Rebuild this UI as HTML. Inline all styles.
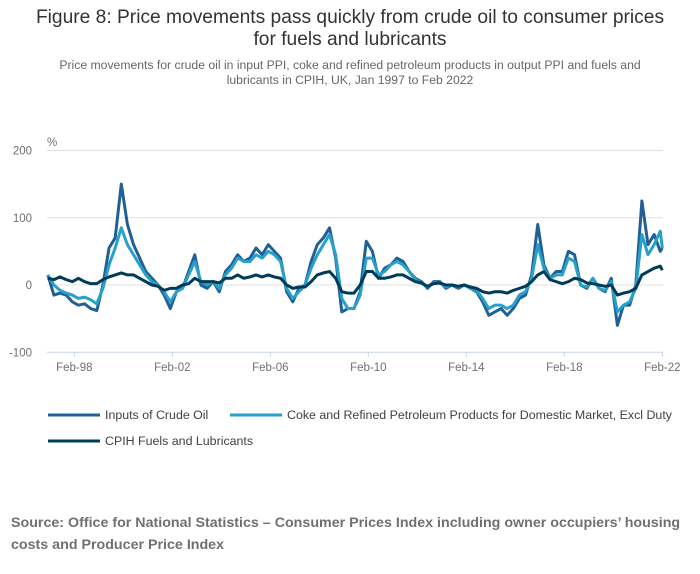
<!DOCTYPE html>
<html><head><meta charset="utf-8"><style>
body{margin:0;width:700px;height:574px;background:#fff;font-family:"Liberation Sans",sans-serif;overflow:hidden;position:relative}
.t{position:absolute;left:0;width:700px;text-align:center;color:#333}
</style></head><body>
<div class="t" style="top:7px;font-size:19.2px;line-height:22px;color:#333">Figure 8: Price movements pass quickly from crude oil to consumer prices<br>for fuels and lubricants</div>
<div class="t" style="top:58px;font-size:12.2px;line-height:15px;color:#666">Price movements for crude oil in input PPI, coke and refined petroleum products in output PPI and fuels and<br>lubricants in CPIH, UK, Jan 1997 to Feb 2022</div>
<svg id="c" width="700" height="574" style="position:absolute;left:0;top:0"></svg>
<div style="position:absolute;left:11px;top:512px;font-size:14.25px;line-height:22px;font-weight:bold;color:#707070;white-space:nowrap">Source: Office for National Statistics – Consumer Prices Index including owner occupiers’ housing<br>costs and Producer Price Index</div>
<script>
const months=[0,3,6,9,12,15,18,21,24,27,30,33,36,39,42,45,48,51,54,57,60,63,66,69,72,75,78,81,84,87,90,93,96,99,102,105,108,111,114,117,120,123,126,129,132,135,138,141,144,147,150,153,156,159,162,165,168,171,174,177,180,183,186,189,192,195,198,201,204,207,210,213,216,219,222,225,228,231,234,237,240,243,246,249,252,255,258,261,264,267,270,273,276,279,282,285,288,291,294,297,300,301];
const crude=[15,-15,-12,-15,-25,-30,-28,-35,-38,0,55,70,150,90,60,40,20,10,0,-15,-35,-10,-5,20,45,0,-5,5,-10,20,30,45,35,40,55,45,60,50,40,-10,-25,-5,0,35,60,70,85,40,-40,-35,-35,-10,65,50,10,25,30,40,35,20,10,5,-5,5,5,-5,0,-5,0,-5,-10,-25,-45,-40,-35,-45,-35,-20,-15,15,90,30,10,20,20,50,45,0,-5,10,-5,-10,10,-60,-30,-30,0,125,60,75,50,55];
const coke=[15,0,-8,-12,-15,-20,-18,-22,-28,-5,30,55,85,60,45,30,15,5,0,-10,-25,-10,-5,15,35,5,0,5,-5,15,25,40,35,35,45,40,50,45,35,-5,-20,-10,0,25,45,60,75,45,-20,-35,-35,-15,40,40,15,20,30,35,30,20,8,3,-3,3,3,-3,0,-3,0,-5,-8,-20,-35,-30,-30,-35,-30,-15,-10,10,60,25,10,15,15,40,35,0,-3,10,-5,-8,5,-40,-30,-25,-5,75,45,60,80,55];
const cpih=[10,8,12,8,5,10,5,2,2,8,12,15,18,15,15,10,5,0,-2,-8,-5,-5,0,2,10,5,5,5,3,10,10,15,10,12,15,12,15,12,10,0,-5,-3,-3,5,15,18,20,10,-10,-12,-12,0,20,20,10,10,12,15,15,10,5,3,-2,2,3,0,0,-2,0,-3,-5,-10,-12,-10,-10,-12,-8,-5,-2,5,15,20,8,5,2,5,10,8,3,2,0,-2,0,-15,-12,-10,-5,15,20,25,28,22];
const yTicks=[200,100,0,-100];
const xTickLabels=["Feb-98","Feb-02","Feb-06","Feb-10","Feb-14","Feb-18","Feb-22"];
const xTickMonths=[13,61,109,157,205,253,301];
const NS="http://www.w3.org/2000/svg",svg=document.getElementById('c');
const X=m=>47.8+m*(662.3-47.8)/301, Y=v=>285-v*0.6725;
function mk(t,a){const e=document.createElementNS(NS,t);for(const k in a)e.setAttribute(k,a[k]);svg.appendChild(e);return e;}
yTicks.forEach(v=>{
 const g=mk('line',{x1:47,x2:663,y1:Y(v),y2:Y(v),stroke:v===-100?'#c5d3e8':'#e0e0e0','stroke-width':1});
 
 
 const t=mk('text',{x:32,y:Y(v)+4,'text-anchor':'end','font-size':11.5,fill:'#707070'});t.textContent=v;
 
 
});
const pc=mk('text',{x:47,y:146,'font-size':11.5,fill:'#707070'});pc.textContent='%';


xTickMonths.forEach((m,i)=>{
 const l=mk('line',{x1:X(m),x2:X(m),y1:352,y2:357,stroke:'#c5d3e8'});
 
 
 const t=mk('text',{x:X(m),y:371,'text-anchor':'middle','font-size':11.5,fill:'#707070'});t.textContent=xTickLabels[i];
 
 
});
function line(data,col,name){
 const p=mk('polyline',{points:data.map((v,i)=>X(months[i])+','+Y(v)).join(' '),fill:'none',stroke:col,'stroke-width':3,'stroke-linejoin':'round'});
 
 
}
line(crude,'#206095','crude-oil-line');
line(coke,'#27a0cc','coke-petroleum-line');
line(cpih,'#003c57','cpih-fuels-line');
const leg=[[48,415,'#206095','Inputs of Crude Oil','legend-crude-oil'],[230,415,'#27a0cc','Coke and Refined Petroleum Products for Domestic Market, Excl Duty','legend-coke-petroleum'],[48,441,'#003c57','CPIH Fuels and Lubricants','legend-cpih-fuels']];
leg.forEach(l=>{
 const g=mk('line',{x1:l[0],x2:l[0]+52,y1:l[1],y2:l[1],stroke:l[2],'stroke-width':3});
 
 
 const t=mk('text',{x:l[0]+57,y:l[1]+4,'font-size':12.4,fill:'#414042'});t.textContent=l[3];
 
 
});
</script>
</body></html>
